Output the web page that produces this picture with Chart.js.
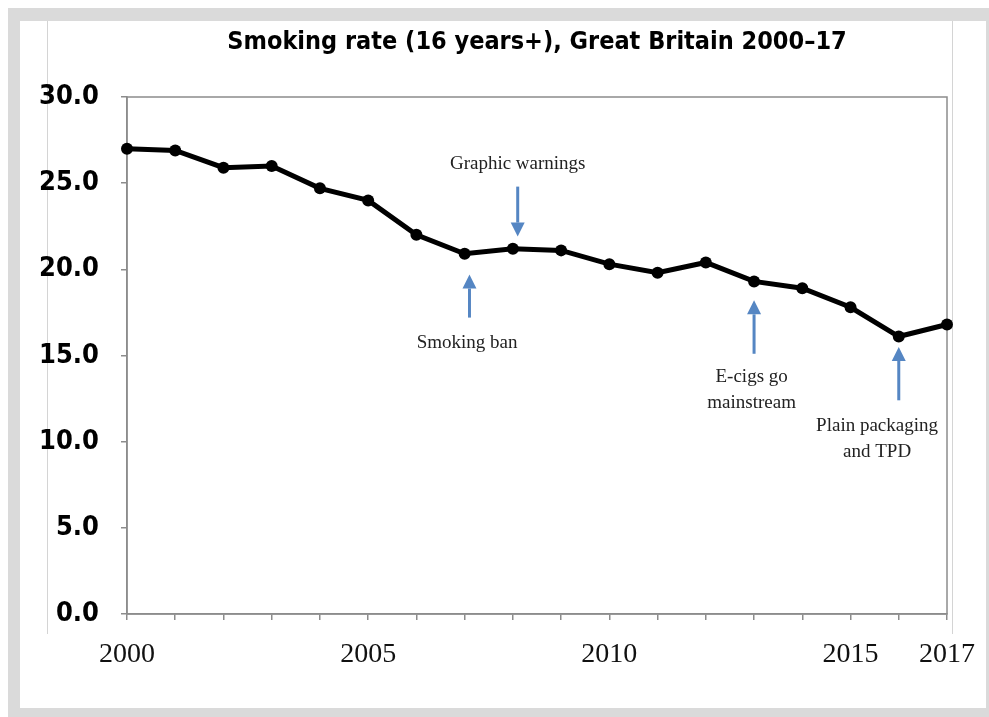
<!DOCTYPE html>
<html>
<head>
<meta charset="utf-8">
<script src="https://cdn.jsdelivr.net/npm/chart.js@4/dist/chart.umd.min.js"></script>
<style>
  html, body { margin: 0; padding: 0; background: #fff; }
  body { width: 989px; height: 717px; position: relative; overflow: hidden; }
  #frame { position: absolute; left: 8px; top: 8px; width: 981px; height: 709px; background: #dadada; }
  #card { position: absolute; left: 20px; top: 21px; width: 966px; height: 687px; background: #fff; }
  .vline { position: absolute; top: 21px; width: 1px; height: 613px; background: #d4d4d4; }
  #wrap { position: absolute; left: 0; top: 0; width: 989px; height: 717px; }
</style>
</head>
<body>
<div id="frame"></div>
<div id="card"></div>
<div class="vline" style="left:47px"></div>
<div class="vline" style="left:952px"></div>
<div id="wrap"><canvas id="chart" width="989" height="717"></canvas></div>
<script>
// values
var years = ['2000', '2001', '2002', '2003', '2004', '2005', '2006', '2007', '2008',
             '2009', '2010', '2011', '2012', '2013', '2014', '2015', '2016', '2017'];
var smokingRate = [27.0, 26.9, 25.9, 26.0, 24.7, 24.0, 22.0, 20.9, 21.2,
                   21.1, 20.3, 19.8, 20.4, 19.3, 18.9, 17.8, 16.1, 16.8];
var xTickLabels = ['2000', '2005', '2010', '2015', '2017'];
var yTicks = [0, 5, 10, 15, 20, 25, 30];

// events: arrow at x (index), from tail to head (data units), text lines
var events = [
    { x: 7.1, tail: 17.2, head: 19.7, tx: 7.05, ty: [15.7], text: ['Smoking ban'] },
    { x: 8.1, tail: 24.8, head: 21.9, tx: 8.1, ty: [26.1], text: ['Graphic warnings'] },
    { x: 13.0, tail: 15.1, head: 18.2, tx: 12.95, ty: [13.75, 12.25], text: ['E-cigs go', 'mainstream'] },
    { x: 16.0, tail: 12.4, head: 15.5, tx: 15.55, ty: [10.9, 9.4], text: ['Plain packaging', 'and TPD'] }
];

var narrow = '"DejaVu Sans Condensed", "Liberation Sans Narrow", sans-serif';
var serif = '"Liberation Serif", "Times New Roman", serif';

var boxPlugin = {
    id: 'box',
    beforeDatasetsDraw: function (chart) {
        var a = chart.chartArea, ctx = chart.ctx;
        ctx.save();
        ctx.strokeStyle = '#8c8c8c';
        ctx.lineWidth = 1.5;
        ctx.strokeRect(a.left, a.top, a.right - a.left, a.bottom - a.top);
        ctx.restore();
    }
};

var eventsPlugin = {
    id: 'events',
    afterDatasetsDraw: function (chart) {
        var ctx = chart.ctx, xs = chart.scales.x, ys = chart.scales.y;
        ctx.save();
        events.forEach(function (e) {
            var x = xs.getPixelForValue(e.x);
            var y0 = ys.getPixelForValue(e.tail);
            var y1 = ys.getPixelForValue(e.head);
            var dir = y1 > y0 ? 1 : -1;
            var headLen = 14, headW = 7;
            ctx.strokeStyle = '#5586c3';
            ctx.fillStyle = '#5586c3';
            ctx.lineWidth = 3;
            ctx.beginPath();
            ctx.moveTo(x, y0);
            ctx.lineTo(x, y1 - dir * headLen);
            ctx.stroke();
            ctx.beginPath();
            ctx.moveTo(x, y1);
            ctx.lineTo(x - headW, y1 - dir * headLen);
            ctx.lineTo(x + headW, y1 - dir * headLen);
            ctx.closePath();
            ctx.fill();

            ctx.fillStyle = '#222';
            ctx.font = '19px ' + serif;
            ctx.textAlign = 'center';
            ctx.textBaseline = 'middle';
            var tx = xs.getPixelForValue(e.tx);
            e.text.forEach(function (t, i) {
                ctx.fillText(t, tx, ys.getPixelForValue(e.ty[i]));
            });
        });
        ctx.restore();
    }
};

new Chart(document.getElementById('chart'), {
    type: 'line',
    data: {
        labels: years,
        datasets: [{
            data: smokingRate,
            borderColor: '#000',
            backgroundColor: '#000',
            borderWidth: 5,
            pointRadius: 6,
            pointBackgroundColor: '#000',
            pointBorderWidth: 0,
            tension: 0
        }]
    },
    options: {
        responsive: false,
        animation: false,
        layout: { padding: { left: 0, right: 42, top: 0, bottom: 0 } },
        plugins: {
            legend: { display: false },
            tooltip: { enabled: false },
            title: {
                display: true,
                fullSize: false,
                text: 'Smoking rate (16 years+), Great Britain 2000\u201317',
                color: '#000',
                font: { family: narrow, size: 25, weight: 'bold' },
                padding: { top: 27, bottom: 40 }
            }
        },
        scales: {
            x: {
                type: 'category',
                offset: false,
                grid: { drawOnChartArea: false, tickLength: 6, color: '#8c8c8c', lineWidth: 1.5 },
                border: { color: '#8c8c8c', width: 1.5 },
                ticks: {
                    autoSkip: false,
                    maxRotation: 0,
                    padding: 18,
                    color: '#111',
                    font: { family: serif, size: 28 },
                    callback: function (v, i) {
                        return xTickLabels.indexOf(years[i]) >= 0 ? years[i] : '';
                    }
                },
                afterFit: function (s) { s.height = 103; s.paddingRight = 0; s.paddingLeft = 0; }
            },
            y: {
                min: 0,
                max: 30,
                afterBuildTicks: function (s) {
                    s.ticks = yTicks.map(function (v) { return { value: v }; });
                },
                grid: { drawOnChartArea: false, tickLength: 6, color: '#8c8c8c', lineWidth: 1.5 },
                border: { color: '#8c8c8c', width: 1.5 },
                ticks: {
                    padding: 22,
                    color: '#000',
                    font: { family: narrow, size: 27, weight: 'bold' },
                    callback: function (v) { return v.toFixed(1); }
                },
                afterFit: function (s) { s.width = 127; }
            }
        }
    },
    plugins: [boxPlugin, eventsPlugin]
});
</script>
</body>
</html>
